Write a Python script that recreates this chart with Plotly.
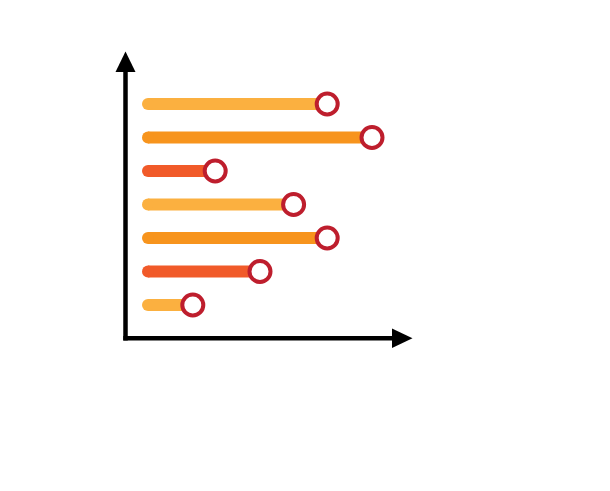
import plotly.graph_objects as go

# ---- data (top to bottom) ----
categories = ["A", "B", "C", "D", "E", "F", "G"]
values = [8, 10, 3, 6.5, 8, 5, 2]
bar_colors = ["#FBB040", "#F7941D", "#F15A29", "#FBB040", "#F7941D", "#F15A29", "#FBB040"]
marker_color = "#BE1E2D"

OFF = 8  # default body margin of the html page
W, H = 610, 491
L, R, T, B = 125 - OFF, 412 - OFF, 52 - OFF, 338 - OFF  # plot area in pixels
x_zero_px, x_unit_px = 148 - OFF, 22.4
y_zero_px, y_unit_px = 305 - OFF, 33.5

n = len(categories)
ypos = [n - 1 - i for i in range(n)]  # top category highest

fig = go.Figure()
for cat, v, c, y in zip(categories, values, bar_colors, ypos):
    fig.add_trace(go.Scatter(x=[0, v], y=[y, y], mode="lines",
                             line=dict(color=c, width=12), hoverinfo="skip",
                             showlegend=False))
# round caps at start
fig.add_trace(go.Scatter(x=[0] * n, y=ypos, mode="markers",
                         marker=dict(size=12, color=bar_colors, line=dict(width=0)),
                         hoverinfo="skip", showlegend=False, cliponaxis=False))
# lollipop heads
fig.add_trace(go.Scatter(x=values, y=ypos, mode="markers", text=categories,
                         marker=dict(size=21, color="white",
                                     line=dict(color=marker_color, width=4)),
                         showlegend=False, cliponaxis=False))

def px(x):
    return (x - OFF - L) / (R - L)

def py(y):
    return (B - (y - OFF)) / (B - T)

shapes = [
    dict(type="line", xref="paper", yref="paper", x0=px(125.5), x1=px(125.5),
         y0=py(340.5), y1=py(70), line=dict(color="black", width=4.5)),
    dict(type="line", xref="paper", yref="paper", x0=px(123.3), x1=px(394),
         y0=py(338.3), y1=py(338.3), line=dict(color="black", width=4.5)),
    dict(type="path", xref="paper", yref="paper",
         path=f"M {px(125.5)},{py(51.5)} L {px(115.5)},{py(72)} L {px(135.5)},{py(72)} Z",
         fillcolor="black", line=dict(width=0)),
    dict(type="path", xref="paper", yref="paper",
         path=f"M {px(412.5)},{py(338.3)} L {px(392)},{py(328.5)} L {px(392)},{py(348)} Z",
         fillcolor="black", line=dict(width=0)),
]

fig.update_layout(
    width=W, height=H,
    margin=dict(l=L, r=W - R, t=T, b=H - B, pad=0),
    paper_bgcolor="white", plot_bgcolor="white",
    xaxis=dict(range=[(L - x_zero_px) / x_unit_px, (R - x_zero_px) / x_unit_px],
               visible=False, fixedrange=True),
    yaxis=dict(range=[(y_zero_px - B) / y_unit_px, (y_zero_px - T) / y_unit_px],
               visible=False, fixedrange=True),
    shapes=shapes,
    showlegend=False,
)

fig.write_html("out.html", config={"displayModeBar": False})
